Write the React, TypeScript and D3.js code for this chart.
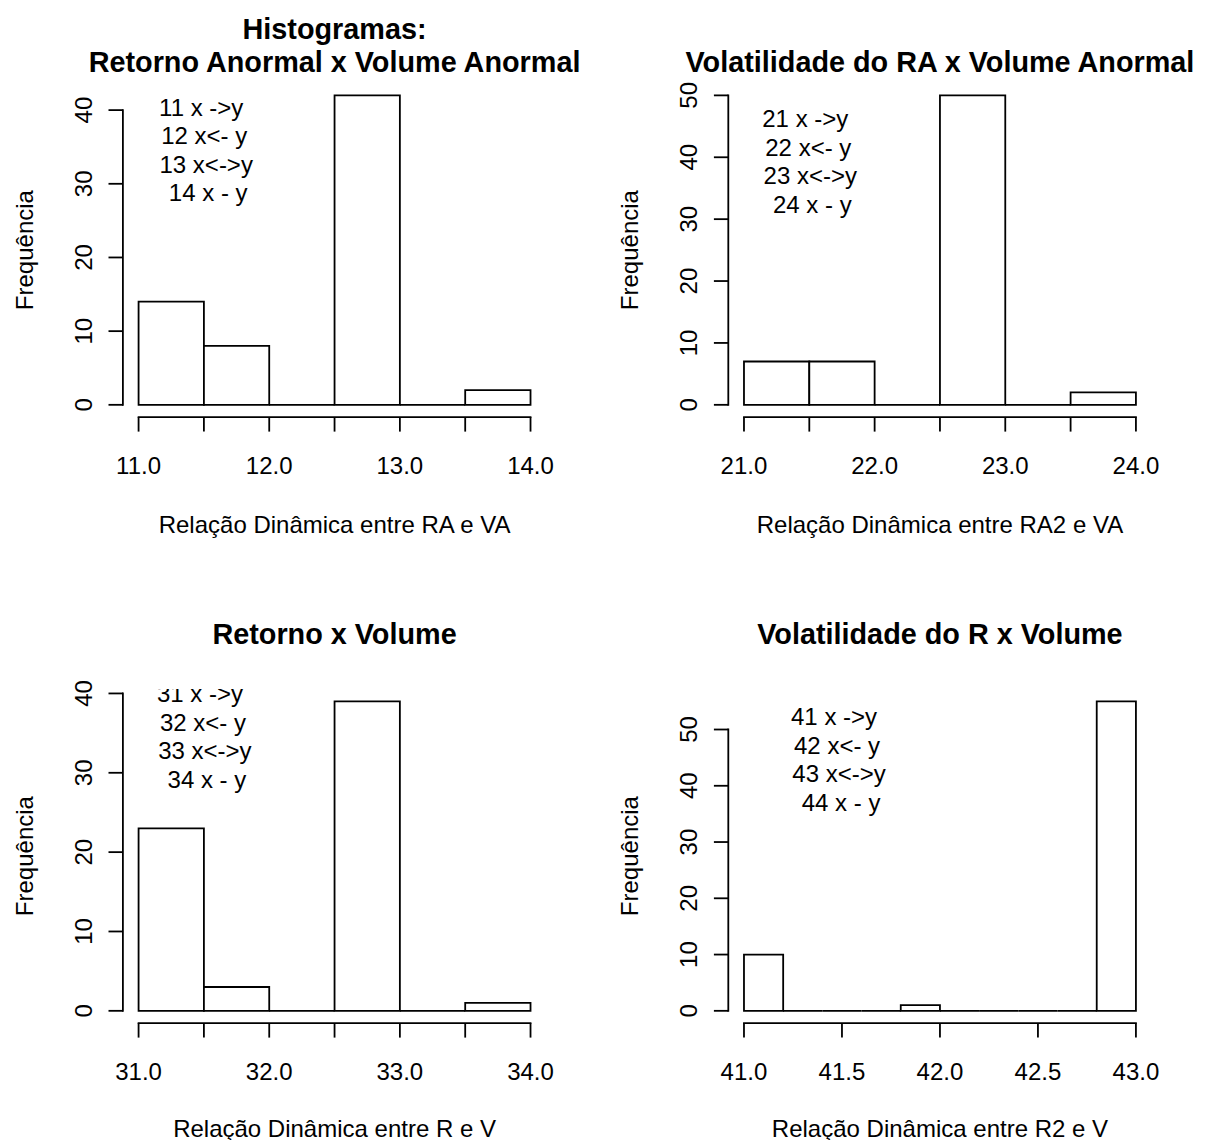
import React from "react";
import * as d3 from "d3";

// ---------- data ----------
const breaks1 = [11, 11.5, 12, 12.5, 13, 13.5, 14];
const counts1 = [14, 8, 0, 42, 0, 2];
const xTicks1 = [11, 11.5, 12, 12.5, 13, 13.5, 14];
const xLabels1 = [11, 12, 13, 14];
const yTicks1 = [0, 10, 20, 30, 40];
const notes1 = ["11 x ->y", "12 x<- y", "13 x<->y", "14 x - y"];

const breaks2 = [21, 21.5, 22, 22.5, 23, 23.5, 24];
const counts2 = [7, 7, 0, 50, 0, 2];
const xTicks2 = [21, 21.5, 22, 22.5, 23, 23.5, 24];
const xLabels2 = [21, 22, 23, 24];
const yTicks2 = [0, 10, 20, 30, 40, 50];
const notes2 = ["21 x ->y", "22 x<- y", "23 x<->y", "24 x - y"];

const breaks3 = [31, 31.5, 32, 32.5, 33, 33.5, 34];
const counts3 = [23, 3, 0, 39, 0, 1];
const xTicks3 = [31, 31.5, 32, 32.5, 33, 33.5, 34];
const xLabels3 = [31, 32, 33, 34];
const yTicks3 = [0, 10, 20, 30, 40];
const notes3 = ["31 x ->y", "32 x<- y", "33 x<->y", "34 x - y"];

const breaks4 = [41, 41.2, 41.4, 41.6, 41.8, 42, 42.2, 42.4, 42.6, 42.8, 43];
const counts4 = [10, 0, 0, 0, 1, 0, 0, 0, 0, 55];
const xTicks4 = [41, 41.5, 42, 42.5, 43];
const xLabels4 = [41, 41.5, 42, 42.5, 43];
const yTicks4 = [0, 10, 20, 30, 40, 50];
const notes4 = ["41 x ->y", "42 x<- y", "43 x<->y", "44 x - y"];

const titles = [
  ["Histogramas:", "Retorno Anormal x Volume Anormal"],
  ["Volatilidade do RA x Volume Anormal"],
  ["Retorno x Volume"],
  ["Volatilidade do R x Volume"],
];
const xTitles = [
  "Relação Dinâmica entre RA e VA",
  "Relação Dinâmica entre RA2 e VA",
  "Relação Dinâmica entre R e V",
  "Relação Dinâmica entre R2 e V",
];
const yTitle = "Frequência";

// annotation anchor (centre of text block) in data units
const noteX = [11.51, 21.5, 31.5, 41.48];
const noteY = [34.6, 39.3, 34.6, 44.7];

// ---------- layout ----------
const W = 1211;
const H = 1140;
const colLeft = [122.9, 728.3];
const plotW = 423.3;
const rowTop = [83, 689];
const plotH = 334.2;
const titleBase = [[39, 71.5], [644, 644]];
const xTitleOffset = [116, 114];
const FONT = "'Liberation Sans', Arial, Helvetica, sans-serif";
const FS = 24;
const TFS = 28.8;
const SW = 1.8;
const lineDx = [-4, -1, 1, 3];
const lineGap = 28.5;

const panels = [
  { breaks: breaks1, counts: counts1, xTicks: xTicks1, xLabels: xLabels1, yTicks: yTicks1, notes: notes1, row: 0, col: 0 },
  { breaks: breaks2, counts: counts2, xTicks: xTicks2, xLabels: xLabels2, yTicks: yTicks2, notes: notes2, row: 0, col: 1 },
  { breaks: breaks3, counts: counts3, xTicks: xTicks3, xLabels: xLabels3, yTicks: yTicks3, notes: notes3, row: 1, col: 0 },
  { breaks: breaks4, counts: counts4, xTicks: xTicks4, xLabels: xLabels4, yTicks: yTicks4, notes: notes4, row: 1, col: 1 },
];

function Panel({ p, i }: { p: any; i: number }) {
  const left = colLeft[p.col];
  const top = rowTop[p.row];
  const right = left + plotW;
  const bottom = top + plotH;
  const xmin = p.breaks[0];
  const xmax = p.breaks[p.breaks.length - 1];
  const xr = xmax - xmin;
  const ymax = d3.max(p.counts as number[]) as number;
  const x = d3.scaleLinear().domain([xmin - 0.04 * xr, xmax + 0.04 * xr]).range([left, right]);
  const y = d3.scaleLinear().domain([-0.04 * ymax, ymax * 1.04]).range([bottom, top]);
  const bins = (p.counts as number[]).map((c, k) => ({ x0: p.breaks[k], x1: p.breaks[k + 1], c }));
  const fmt = d3.format(".1f");
  const yT: number[] = p.yTicks;
  const xT: number[] = p.xTicks;
  const cx = (left + right) / 2;
  const cy = (top + bottom) / 2;
  const tb = titleBase[p.row];
  const tLines: string[] = titles[i];
  const tStart = tLines.length === 2 ? 0 : 1;
  const clipId = `clip${i}`;
  const ylabX = left - 90.3;
  const barPath = (b: any) => {
    const path = d3.path();
    path.moveTo(x(b.x0), y(0));
    path.lineTo(x(b.x0), y(b.c));
    path.lineTo(x(b.x1), y(b.c));
    path.lineTo(x(b.x1), y(0));
    path.closePath();
    return path.toString();
  };
  return (
    <g>
      <defs>
        <clipPath id={clipId}>
          <rect x={left} y={top} width={plotW} height={plotH} />
        </clipPath>
      </defs>
      {tLines.map((t, k) => (
        <text key={k} x={cx} y={tb[tStart + k]} textAnchor="middle" fontFamily={FONT} fontWeight="bold" fontSize={TFS}>
          {t}
        </text>
      ))}
      {bins.map((b, k) => (
        <path key={k} d={barPath(b)} fill="white" stroke="black" strokeWidth={SW} strokeLinejoin="miter" />
      ))}
      <line x1={left} x2={left} y1={y(yT[0])} y2={y(yT[yT.length - 1])} stroke="black" strokeWidth={SW} strokeLinecap="square" />
      {yT.map((t) => (
        <g key={t}>
          <line x1={left - 14.4} x2={left} y1={y(t)} y2={y(t)} stroke="black" strokeWidth={SW} />
          <text
            transform={`translate(${left - 31},${y(t)}) rotate(-90)`}
            textAnchor="middle"
            fontFamily={FONT}
            fontSize={FS}
          >
            {t}
          </text>
        </g>
      ))}
      <line x1={x(xT[0])} x2={x(xT[xT.length - 1])} y1={bottom} y2={bottom} stroke="black" strokeWidth={SW} strokeLinecap="square" />
      {xT.map((t) => (
        <line key={t} x1={x(t)} x2={x(t)} y1={bottom} y2={bottom + 14.4} stroke="black" strokeWidth={SW} />
      ))}
      {(p.xLabels as number[]).map((t) => (
        <text key={t} x={x(t)} y={bottom + 57} textAnchor="middle" fontFamily={FONT} fontSize={FS}>
          {fmt(t)}
        </text>
      ))}
      <text x={cx} y={bottom + xTitleOffset[p.row]} textAnchor="middle" fontFamily={FONT} fontSize={FS}>
        {xTitles[i]}
      </text>
      <text transform={`translate(${ylabX},${cy}) rotate(-90)`} textAnchor="middle" fontFamily={FONT} fontSize={FS}>
        {yTitle}
      </text>
      <g clipPath={`url(#${clipId})`}>
        {(p.notes as string[]).map((n, k) => (
          <text
            key={k}
            x={x(noteX[i]) + lineDx[k]}
            y={y(noteY[i]) + (k - 1.5) * lineGap + 8.6}
            textAnchor="middle"
            fontFamily={FONT}
            fontSize={FS}
            style={{ whiteSpace: "pre" }}
          >
            {n}
          </text>
        ))}
      </g>
    </g>
  );
}

export default function App() {
  return (
    <svg
      width={W}
      height={H}
      viewBox={`0 0 ${W} ${H}`}
      style={{ position: "absolute", left: 0, top: 0, background: "white" }}
    >
      <rect x={0} y={0} width={W} height={H} fill="white" />
      {panels.map((p, i) => (
        <Panel key={i} p={p} i={i} />
      ))}
    </svg>
  );
}
